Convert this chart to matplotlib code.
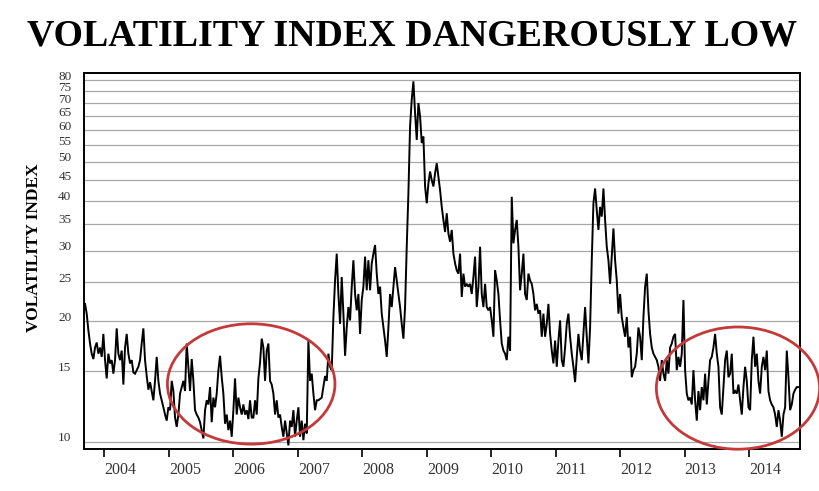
import numpy as np
import matplotlib
matplotlib.use("Agg")
import matplotlib.pyplot as plt
from matplotlib.patches import Ellipse
from matplotlib.transforms import ScaledTranslation
from matplotlib.ticker import FixedLocator, NullLocator

plt.rcParams['font.family'] = ['Liberation Serif', 'DejaVu Serif']

title = "VOLATILITY INDEX DANGEROUSLY LOW"
ylabel = "VOLATILITY INDEX"
year_ticks = [2004, 2005, 2006, 2007, 2008, 2009, 2010, 2011, 2012, 2013, 2014]
y_ticks = [10, 15, 20, 25, 30, 35, 40, 45, 50, 55, 60, 65, 70, 75, 80]
start_year, end_year = 2003.698, 2014.766

vix = [
    22.1, 20.9, 19.0, 17.6, 16.6, 16.1, 17.2, 17.7, 16.6, 17.2,
    16.3, 18.6, 16.0, 14.4, 16.6, 15.7, 16.0, 14.8, 16.0, 19.2,
    16.6, 16.0, 16.9, 13.9, 17.2, 18.6, 16.6, 15.7, 16.0, 14.9,
    14.8, 15.1, 15.4, 16.0, 17.6, 19.2, 16.0, 14.6, 13.5, 14.1,
    13.4, 12.7, 14.2, 16.3, 14.2, 13.2, 12.7, 12.2, 11.7, 11.3,
    12.2, 12.0, 14.2, 13.4, 11.5, 10.9, 11.7, 13.2, 13.7, 14.2,
    13.4, 17.6, 15.4, 13.4, 16.1, 14.2, 12.0, 11.7, 11.5, 11.2,
    10.7, 10.2, 12.0, 12.7, 12.4, 13.7, 11.2, 12.9, 12.2, 13.2,
    15.1, 16.4, 14.5, 13.2, 11.1, 11.7, 10.7, 11.3, 10.3, 12.0,
    14.4, 11.7, 12.9, 12.2, 11.7, 12.4, 11.7, 12.0, 11.4, 12.7,
    11.5, 11.5, 12.7, 11.7, 14.4, 15.8, 18.1, 17.2, 14.2, 16.9,
    17.6, 14.2, 13.9, 13.2, 11.7, 12.7, 11.5, 11.7, 10.9, 10.3,
    11.3, 10.5, 9.8, 11.3, 10.9, 12.0, 10.3, 11.3, 12.2, 10.3,
    11.3, 10.1, 11.1, 10.5, 17.9, 14.2, 14.8, 13.2, 12.0, 12.7,
    12.7, 12.8, 12.9, 13.7, 14.6, 14.2, 16.6, 15.4, 15.1, 20.5,
    25.3, 29.5, 23.4, 19.7, 25.8, 20.9, 16.4, 19.3, 21.7, 20.1,
    24.4, 28.4, 23.4, 21.3, 23.4, 18.6, 22.6, 24.4, 29.0, 23.9,
    28.4, 23.9, 27.9, 29.5, 31.0, 26.3, 23.4, 24.4, 20.9, 19.3,
    17.9, 16.3, 19.3, 23.4, 21.7, 24.4, 27.3, 25.3, 23.4, 21.7,
    19.7, 18.1, 21.7, 30.7, 41.7, 61.3, 71.5, 79.4, 66.2, 56.7,
    70.1,
    64.9, 55.7, 57.8, 43.4, 39.4, 44.2, 47.3, 45.0, 43.4, 46.8,
    49.6, 45.9, 42.5, 38.6, 35.8, 33.4, 37.2, 33.1, 31.6, 33.8,
    29.5, 27.9, 26.8, 26.3, 29.5, 23.0, 26.3, 24.4, 24.8, 24.4,
    24.8, 23.4, 25.8, 29.0, 21.7, 24.4, 30.7, 23.4, 21.7, 24.8,
    21.7, 21.3, 21.7, 20.1, 18.3, 26.8, 25.3, 23.4, 20.1, 17.6,
    16.9, 16.6, 16.0, 18.3, 16.9, 40.9, 31.3, 33.8, 35.8, 30.7,
    23.9, 26.3, 29.5, 23.4, 22.6, 26.3, 25.3, 24.8, 23.4, 21.3,
    22.1, 20.9, 21.3, 18.3, 20.9, 18.3, 19.7, 22.1, 18.6, 16.9,
    15.7, 17.9, 15.4, 17.9, 20.1, 16.0, 15.4, 17.2, 19.7, 20.9,
    18.3, 16.6, 15.4, 14.1, 16.3, 18.6, 16.9, 16.0, 18.6, 21.7,
    18.3, 15.7, 19.3, 28.4, 39.4, 42.9, 37.9, 33.8, 38.6, 36.5,
    42.9, 35.8, 30.7, 28.4, 24.8, 29.0, 34.1, 28.4, 25.3, 20.9,
    23.4, 20.5, 19.3, 18.3, 20.5, 17.2, 18.3, 14.5, 15.1, 15.4,
    16.6, 19.3, 18.3, 16.0, 20.5, 24.4, 26.3, 21.3, 18.6, 17.2,
    16.6, 16.3, 16.0, 15.4, 14.2, 16.0, 14.8, 14.2, 16.0, 14.8,
    17.2, 17.6, 18.3, 18.6, 15.1, 16.3, 15.4, 16.6, 22.6, 15.1,
    13.2, 12.7, 12.9, 12.4, 15.1, 12.7, 11.3, 13.4, 12.0, 13.7,
    12.7, 14.8, 12.4, 14.2, 16.0, 16.3, 17.2, 18.6, 16.6, 15.4,
    12.2, 11.7, 13.7, 16.0, 16.9, 14.5, 14.8, 16.6, 13.2, 13.4,
    13.2, 13.9, 12.7, 11.7, 13.7, 15.4, 14.2, 12.2, 12.0, 16.0,
    18.3, 15.4, 16.6, 14.2, 13.2, 15.4, 16.3, 15.1, 16.9, 13.4,
    12.7, 12.4, 12.2, 11.7, 10.9, 12.0, 11.3, 10.3, 11.7, 12.2,
    16.9, 14.5, 12.0, 12.4, 13.2, 13.5, 13.7, 13.7,
]
years = np.linspace(start_year, end_year, len(vix))

fig = plt.figure(figsize=(8.2, 4.91), dpi=100)
fig.patch.set_facecolor('white')
ax = fig.add_axes([84/820, 1 - 449/491, 716/820, 376/491])

ax.plot(years, vix, color='black', lw=1.4, solid_joinstyle='miter')
ax.set_yscale('log')
ax.set_ylim(9.6, 83.3)
ax.set_xlim(2003.682, 2014.79)

ax.yaxis.set_major_locator(FixedLocator(y_ticks))
ax.yaxis.set_minor_locator(NullLocator())
ax.set_yticklabels([str(t) for t in y_ticks])
ax.set_xticks(year_ticks)
ax.set_xticklabels([str(t) for t in year_ticks], ha='left')
ax.xaxis.set_minor_locator(NullLocator())

ax.grid(axis='y', color='#a8a8a8', lw=0.9)
ax.set_axisbelow(True)
ax.tick_params(axis='y', length=0, pad=9, labelsize=9.5, labelcolor='#333333')
ax.tick_params(axis='x', length=6, width=1.2, direction='out', pad=3,
               labelsize=11.5, labelcolor='#333333')
for lab in ax.get_yticklabels():
    lab.set_transform(lab.get_transform() + ScaledTranslation(0, 0.05, fig.dpi_scale_trans))
for s in ax.spines.values():
    s.set_color('black')
    s.set_linewidth(1.4)

ax.set_ylabel(ylabel, fontsize=12.5, fontweight='bold')
ax.yaxis.set_label_coords(-0.059, 0.535)
fig.text(0.503, 0.926, title, ha='center', va='center', fontsize=27.3,
         fontweight='bold', color='black')

for cx, cy, w, h in [(0.2335, 0.173, 0.234, 0.32), (0.9134, 0.162, 0.228, 0.325)]:
    e = Ellipse((cx, cy), w, h, transform=ax.transAxes, fill=False,
                edgecolor='#c43a3a', lw=2.0, clip_on=False, zorder=5)
    ax.add_patch(e)

fig.savefig('out.png', dpi=100, facecolor='white')
